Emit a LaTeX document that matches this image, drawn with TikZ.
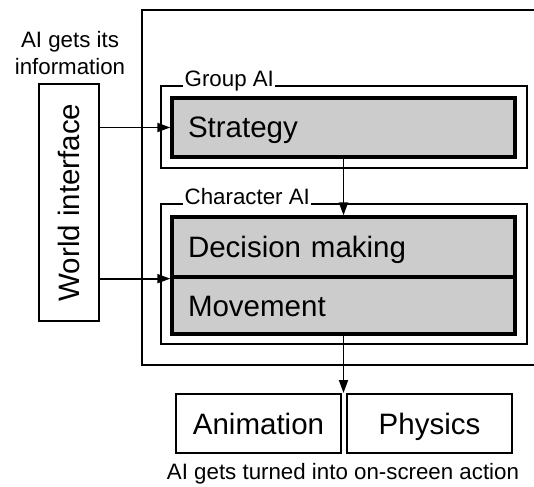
\documentclass[tikz,border=0pt]{standalone}
\usepackage{fontspec}
\usepackage{graphicx}
\setmainfont{Liberation Sans}
\usetikzlibrary{arrows.meta}

\begin{document}
\begin{tikzpicture}[x=1pt,y=-1pt,
	big/.style={font=\fontsize{29.5}{33}\selectfont},
	small/.style={font=\fontsize{22.3}{26.7}\selectfont},
	frame/.style={draw,line width=1.7pt,inner sep=0pt,minimum width=366pt},
	layer/.style={draw,line width=3.3pt,fill=black!20,big,inner xsep=16pt,inner ysep=0pt,
		text width=311pt,align=left,text height=21pt,text depth=0pt},
	outbox/.style={draw,line width=2pt,big,inner sep=0pt,minimum width=165pt,minimum height=59pt,
		text height=21pt,text depth=0pt},
	tag/.style={small,fill=white,inner xsep=1.5pt,inner ysep=1pt,anchor=base west},
	link/.style={line width=1.8pt,-{Triangle[length=13pt,width=9pt]}}]
	\useasboundingbox (0,0) rectangle (534,486);
	\path
	(534,10) coordinate (topend)
	(142,10) coordinate (topleft)
	(142,365) coordinate (botleft)
	(534,365) coordinate (botend)
	;
	% the open outer frame
	\draw[line width=1.5pt] (topend)--(topleft)--(botleft)--(botend);
	% group and character layers
	\node[frame,minimum height=82pt] (group) at (344,127) {};
	\node[frame,minimum height=140pt] (character) at (344,274) {};
	\node[tag] (grouptag) at (183,86.5) {Group AI};
	\node[tag] (chartag) at (183,204.5) {Character AI};
	\node[layer,minimum height=59pt] (strategy) at (343.5,127.5) {Strategy};
	\node[layer,minimum height=60pt] (decision) at (343.5,247) {Decision making};
	\node[layer,minimum height=57pt] (movement) at (343.5,305.5) {Movement};
	% world interface on the left
	\node[draw,line width=2pt,big,inner sep=0pt,minimum width=60pt,minimum height=237pt]
		(world) at (69,202.5) {\rotatebox{90}{World interface}};
	\node[small,align=center] (info) at (70,53) {AI gets its\\information};
	% output boxes
	\node[outbox] (animation) at (258.5,423.5) {Animation};
	\node[outbox] (physics) at (429.5,423.5) {Physics};
	\node[small,anchor=base] (action) at (343,479) {AI gets turned into on-screen action};
	% connectors
	\draw[link] (world.east |- strategy.west)--(strategy.west);
	\draw[link] (world.east |- decision.south west)--(decision.south west);
	\draw[link] (strategy.south)--(decision.north);
	\draw[link] (movement.south)--(movement.south |- animation.north);
\end{tikzpicture}
\end{document}
